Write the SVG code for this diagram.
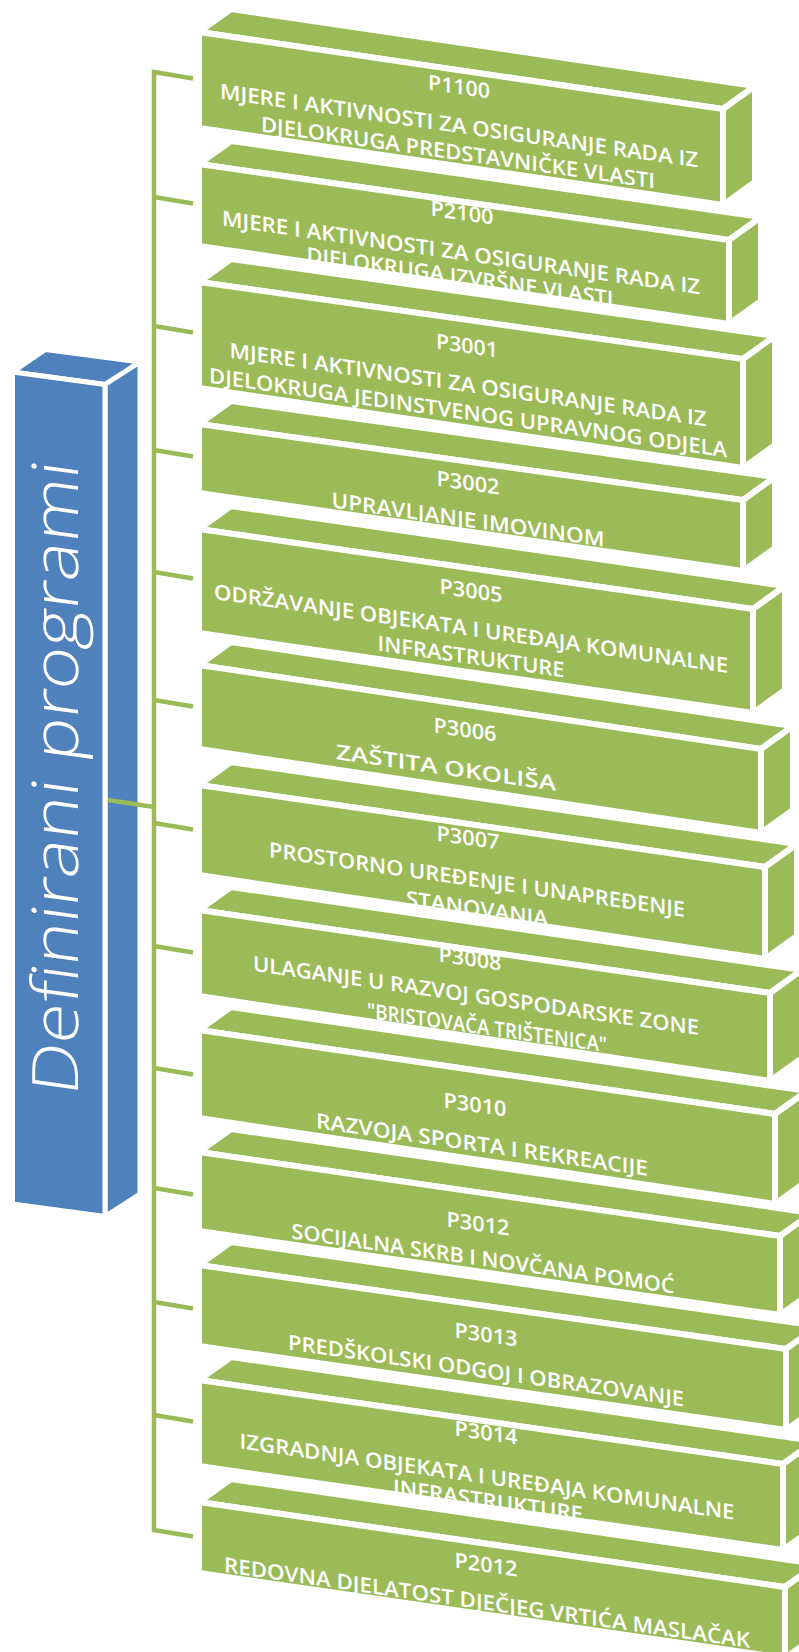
<svg xmlns="http://www.w3.org/2000/svg" xmlns:xlink="http://www.w3.org/1999/xlink" width="799" height="1652" viewBox="0 0 799 1652">
<style>
.gf{fill:#9BBB59;stroke:#fff;stroke-width:6;stroke-linejoin:miter}
.gfill{fill:#9BBB59;stroke:none}
.edge{fill:none;stroke:#fff;stroke-width:6;stroke-linejoin:miter}
.bf{fill:#4F81BD;stroke:#fff;stroke-width:5;stroke-linejoin:miter}
.t{font-family:"Open Sans","Liberation Sans",sans-serif;font-size:21px;font-weight:600;fill:#fff;text-anchor:middle}
.bt{font-family:"Open Sans","Liberation Sans",sans-serif;font-size:64px;font-weight:300;fill:#fff}
.conn{stroke:#9BBB59;stroke-width:4.5;fill:none;stroke-linejoin:miter}
</style>
<defs>
<polygon id="f1" points="199,32 723,109 723,205 199,128"/>
<polygon id="f2" points="199,164 729,240 729,324 199,246"/>
<polygon id="f3" points="199,282 743,359 743,468 199,388"/>
<polygon id="f4" points="199,424 743,500 743,571 199,493"/>
<polygon id="f5" points="199,529 753,609 753,713 199,633"/>
<polygon id="f6" points="199,665 761,749 761,833 199,749"/>
<polygon id="f7" points="199,785 765,867 765,959 199,875"/>
<polygon id="f8" points="199,910 770,993 770,1081 199,996"/>
<polygon id="f9" points="199,1030 775,1114 775,1204 199,1118"/>
<polygon id="f10" points="199,1152 780,1236 780,1315 199,1231"/>
<polygon id="f11" points="199,1265 786,1349 786,1430 199,1346"/>
<polygon id="f12" points="199,1380 783,1464 783,1550 199,1466"/>
<polygon id="f13" points="199,1502 785,1587 785,1658 199,1573"/>
<clipPath id="c1"><use xlink:href="#f1"/></clipPath>
<clipPath id="c2"><use xlink:href="#f2"/></clipPath>
<clipPath id="c3"><use xlink:href="#f3"/></clipPath>
<clipPath id="c4"><use xlink:href="#f4"/></clipPath>
<clipPath id="c5"><use xlink:href="#f5"/></clipPath>
<clipPath id="c6"><use xlink:href="#f6"/></clipPath>
<clipPath id="c7"><use xlink:href="#f7"/></clipPath>
<clipPath id="c8"><use xlink:href="#f8"/></clipPath>
<clipPath id="c9"><use xlink:href="#f9"/></clipPath>
<clipPath id="c10"><use xlink:href="#f10"/></clipPath>
<clipPath id="c11"><use xlink:href="#f11"/></clipPath>
<clipPath id="c12"><use xlink:href="#f12"/></clipPath>
<clipPath id="c13"><use xlink:href="#f13"/></clipPath>
</defs>
<rect width="799" height="1652" fill="#fff"/>

<g id="root">
<polygon class="bf" points="12.5,372 45.5,349.5 140,362 105,384.5"/>
<polygon class="bf" points="105,384.5 140,362 140,1194 105,1216.5"/>
<polygon class="bf" points="12.5,372 105,384.5 105,1216.5 12.5,1204"/>
<text class="bt" transform="translate(78,1097) skewY(7.85) rotate(-90)" textLength="633" lengthAdjust="spacingAndGlyphs">Definirani programi</text>
</g>

<g id="box1">
<polygon class="gf" points="199,32 231,9 755,86 723,109"/>
<polygon class="gf" points="723,109 755,86 755,182 723,205"/>
<use xlink:href="#f1" class="gfill"/>
<g clip-path="url(#c1)">
<text class="t" transform="translate(459,94) skewY(8.2)" textLength="62" lengthAdjust="spacingAndGlyphs">P1100</text>
<text class="t" transform="translate(459,133) skewY(8.2)" textLength="478" lengthAdjust="spacingAndGlyphs">MJERE I AKTIVNOSTI ZA OSIGURANJE RADA IZ</text>
<text class="t" transform="translate(458,160) skewY(8.2)" textLength="394" lengthAdjust="spacingAndGlyphs">DJELOKRUGA PREDSTAVNIČKE VLASTI</text>
</g>
<use xlink:href="#f1" class="edge"/>
</g>

<g id="box2">
<polygon class="gf" points="199,164 231,141 761,217 729,240"/>
<polygon class="gf" points="729,240 761,217 761,301 729,324"/>
<use xlink:href="#f2" class="gfill"/>
<g clip-path="url(#c2)">
<text class="t" transform="translate(462,220) skewY(8.2)" textLength="63" lengthAdjust="spacingAndGlyphs">P2100</text>
<text class="t" transform="translate(461,260) skewY(8.2)" textLength="478" lengthAdjust="spacingAndGlyphs">MJERE I AKTIVNOSTI ZA OSIGURANJE RADA IZ</text>
<text class="t" transform="translate(460,284) skewY(8.2)" textLength="307" lengthAdjust="spacingAndGlyphs">DJELOKRUGA IZVRŠNE VLASTI</text>
</g>
<use xlink:href="#f2" class="edge"/>
</g>

<g id="box3">
<polygon class="gf" points="199,282 231,259 775,336 743,359"/>
<polygon class="gf" points="743,359 775,336 775,445 743,468"/>
<use xlink:href="#f3" class="gfill"/>
<g clip-path="url(#c3)">
<text class="t" transform="translate(467,353) skewY(8.2)" textLength="62" lengthAdjust="spacingAndGlyphs">P3001</text>
<text class="t" transform="translate(468,392) skewY(8.2)" textLength="477" lengthAdjust="spacingAndGlyphs">MJERE I AKTIVNOSTI ZA OSIGURANJE RADA IZ</text>
<text class="t" transform="translate(468,420) skewY(8.2)" textLength="518" lengthAdjust="spacingAndGlyphs">DJELOKRUGA JEDINSTVENOG UPRAVNOG ODJELA</text>
</g>
<use xlink:href="#f3" class="edge"/>
</g>

<g id="box4">
<polygon class="gf" points="199,424 231,401 775,477 743,500"/>
<polygon class="gf" points="743,500 775,477 775,548 743,571"/>
<use xlink:href="#f4" class="gfill"/>
<g clip-path="url(#c4)">
<text class="t" transform="translate(468,490) skewY(8.2)" textLength="63" lengthAdjust="spacingAndGlyphs">P3002</text>
<text class="t" transform="translate(468,527) skewY(8.2)" textLength="273" lengthAdjust="spacingAndGlyphs">UPRAVLJANJE IMOVINOM</text>
</g>
<use xlink:href="#f4" class="edge"/>
</g>

<g id="box5">
<polygon class="gf" points="199,529 231,506 785,586 753,609"/>
<polygon class="gf" points="753,609 785,586 785,690 753,713"/>
<use xlink:href="#f5" class="gfill"/>
<g clip-path="url(#c5)">
<text class="t" transform="translate(471,598) skewY(8.2)" textLength="63" lengthAdjust="spacingAndGlyphs">P3005</text>
<text class="t" transform="translate(471,636) skewY(8.2)" textLength="514" lengthAdjust="spacingAndGlyphs">ODRŽAVANJE OBJEKATA I UREĐAJA KOMUNALNE</text>
<text class="t" transform="translate(471,664) skewY(8.2)" textLength="187" lengthAdjust="spacingAndGlyphs">INFRASTRUKTURE</text>
</g>
<use xlink:href="#f5" class="edge"/>
</g>

<g id="box6">
<polygon class="gf" points="199,665 231,642 793,726 761,749"/>
<polygon class="gf" points="761,749 793,726 793,810 761,833"/>
<use xlink:href="#f6" class="gfill"/>
<g clip-path="url(#c6)">
<text class="t" transform="translate(465,737) skewY(8.2)" textLength="63" lengthAdjust="spacingAndGlyphs">P3006</text>
<text class="t" transform="translate(446,775) skewY(8.2)" textLength="220" lengthAdjust="spacingAndGlyphs">ZAŠTITA OKOLIŠA</text>
</g>
<use xlink:href="#f6" class="edge"/>
</g>

<g id="box7">
<polygon class="gf" points="199,785 231,762 797,844 765,867"/>
<polygon class="gf" points="765,867 797,844 797,936 765,959"/>
<use xlink:href="#f7" class="gfill"/>
<g clip-path="url(#c7)">
<text class="t" transform="translate(468,845) skewY(8.2)" textLength="63" lengthAdjust="spacingAndGlyphs">P3007</text>
<text class="t" transform="translate(477,887) skewY(8.2)" textLength="416" lengthAdjust="spacingAndGlyphs">PROSTORNO UREĐENJE I UNAPREĐENJE</text>
<text class="t" transform="translate(477,916) skewY(8.2)" textLength="142" lengthAdjust="spacingAndGlyphs">STANOVANJA</text>
</g>
<use xlink:href="#f7" class="edge"/>
</g>

<g id="box8">
<polygon class="gf" points="199,910 231,887 802,970 770,993"/>
<polygon class="gf" points="770,993 802,970 802,1058 770,1081"/>
<use xlink:href="#f8" class="gfill"/>
<g clip-path="url(#c8)">
<text class="t" transform="translate(470,966) skewY(8.2)" textLength="63" lengthAdjust="spacingAndGlyphs">P3008</text>
<text class="t" transform="translate(476,1003) skewY(8.2)" textLength="446" lengthAdjust="spacingAndGlyphs">ULAGANJE U RAZVOJ GOSPODARSKE ZONE</text>
<text class="t" transform="translate(487,1035) skewY(8.2)" textLength="240" lengthAdjust="spacingAndGlyphs">"BRISTOVAČA TRIŠTENICA"</text>
</g>
<use xlink:href="#f8" class="edge"/>
</g>

<g id="box9">
<polygon class="gf" points="199,1030 231,1007 807,1091 775,1114"/>
<polygon class="gf" points="775,1114 807,1091 807,1181 775,1204"/>
<use xlink:href="#f9" class="gfill"/>
<g clip-path="url(#c9)">
<text class="t" transform="translate(475,1112) skewY(8.2)" textLength="63" lengthAdjust="spacingAndGlyphs">P3010</text>
<text class="t" transform="translate(482,1152) skewY(8.2)" textLength="332" lengthAdjust="spacingAndGlyphs">RAZVOJA SPORTA I REKREACIJE</text>
</g>
<use xlink:href="#f9" class="edge"/>
</g>

<g id="box10">
<polygon class="gf" points="199,1152 231,1129 812,1213 780,1236"/>
<polygon class="gf" points="780,1236 812,1213 812,1292 780,1315"/>
<use xlink:href="#f10" class="gfill"/>
<g clip-path="url(#c10)">
<text class="t" transform="translate(478,1231) skewY(8.2)" textLength="63" lengthAdjust="spacingAndGlyphs">P3012</text>
<text class="t" transform="translate(483,1266) skewY(8.2)" textLength="383" lengthAdjust="spacingAndGlyphs">SOCIJALNA SKRB I NOVČANA POMOĆ</text>
</g>
<use xlink:href="#f10" class="edge"/>
</g>

<g id="box11">
<polygon class="gf" points="199,1265 231,1242 818,1326 786,1349"/>
<polygon class="gf" points="786,1349 818,1326 818,1407 786,1430"/>
<use xlink:href="#f11" class="gfill"/>
<g clip-path="url(#c11)">
<text class="t" transform="translate(486,1342) skewY(8.2)" textLength="63" lengthAdjust="spacingAndGlyphs">P3013</text>
<text class="t" transform="translate(486,1378) skewY(8.2)" textLength="396" lengthAdjust="spacingAndGlyphs">PREDŠKOLSKI ODGOJ I OBRAZOVANJE</text>
</g>
<use xlink:href="#f11" class="edge"/>
</g>

<g id="box12">
<polygon class="gf" points="199,1380 231,1357 815,1441 783,1464"/>
<polygon class="gf" points="783,1464 815,1441 815,1527 783,1550"/>
<use xlink:href="#f12" class="gfill"/>
<g clip-path="url(#c12)">
<text class="t" transform="translate(486,1440) skewY(8.2)" textLength="63" lengthAdjust="spacingAndGlyphs">P3014</text>
<text class="t" transform="translate(487,1484) skewY(8.2)" textLength="495" lengthAdjust="spacingAndGlyphs">IZGRADNJA OBJEKATA I UREĐAJA KOMUNALNE</text>
<text class="t" transform="translate(488,1508) skewY(8.2)" textLength="190" lengthAdjust="spacingAndGlyphs">INFRASTRUKTURE</text>
</g>
<use xlink:href="#f12" class="edge"/>
</g>

<g id="box13">
<polygon class="gf" points="199,1502 231,1479 817,1564 785,1587"/>
<polygon class="gf" points="785,1587 817,1564 817,1635 785,1658"/>
<use xlink:href="#f13" class="gfill"/>
<g clip-path="url(#c13)">
<text class="t" transform="translate(486,1572) skewY(8.2)" textLength="63" lengthAdjust="spacingAndGlyphs">P2012</text>
<text class="t" transform="translate(487,1610) skewY(8.2)" textLength="526" lengthAdjust="spacingAndGlyphs">REDOVNA DJELATOST DJEČJEG VRTIĆA MASLAČAK</text>
</g>
<use xlink:href="#f13" class="edge"/>
</g>

<g id="connectors">
<path class="conn" d="M193,78.5 L154,72 L154,1530 L193,1536.5"/>
<path class="conn" d="M154,197 L193,203.5"/>
<path class="conn" d="M154,326 L193,332.5"/>
<path class="conn" d="M154,450 L193,456.5"/>
<path class="conn" d="M154,572 L193,578.5"/>
<path class="conn" d="M154,700 L193,706.5"/>
<path class="conn" d="M154,823 L193,829.5"/>
<path class="conn" d="M154,946 L193,952.5"/>
<path class="conn" d="M154,1068 L193,1074.5"/>
<path class="conn" d="M154,1188 L193,1194.5"/>
<path class="conn" d="M154,1302 L193,1308.5"/>
<path class="conn" d="M154,1415 L193,1421.5"/>
<path class="conn" d="M108,800 L154,807"/>
</g>
</svg>
